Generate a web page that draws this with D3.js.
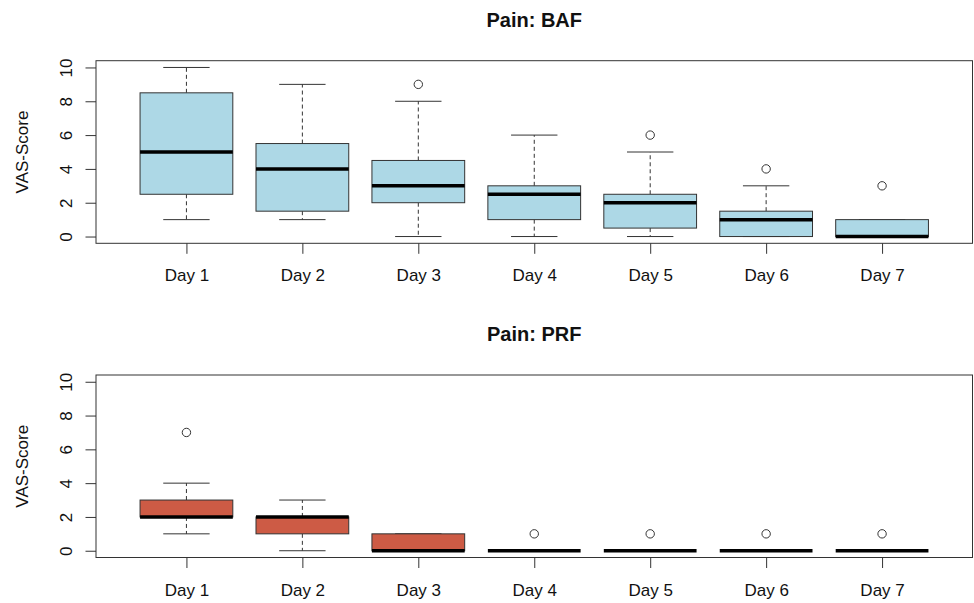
<!DOCTYPE html>
<html>
<head>
<meta charset="utf-8">
<script src="https://cdn.jsdelivr.net/npm/d3@7"></script>
<style>
  body { margin: 0; background: #fff; }
  text { font-family: "Liberation Sans", Arial, Helvetica, sans-serif; fill: #111; }
</style>
</head>
<body>
<div id="chart"></div>
<script>
var days = ["Day 1", "Day 2", "Day 3", "Day 4", "Day 5", "Day 6", "Day 7"];
var yTicks = [0, 2, 4, 6, 8, 10];

// Pain: BAF
var bafLow = [1, 1, 0, 0, 0, 0, 0];
var bafQ1 = [2.5, 1.5, 2, 1, 0.5, 0, 0];
var bafMed = [5, 4, 3, 2.5, 2, 1, 0];
var bafQ3 = [8.5, 5.5, 4.5, 3, 2.5, 1.5, 1];
var bafHigh = [10, 9, 8, 6, 5, 3, 1];
var bafOut = [[], [], [9], [], [6], [4], [3]];

// Pain: PRF
var prfLow = [1, 0, 0, 0, 0, 0, 0];
var prfQ1 = [2, 1, 0, 0, 0, 0, 0];
var prfMed = [2, 2, 0, 0, 0, 0, 0];
var prfQ3 = [3, 2, 1, 0, 0, 0, 0];
var prfHigh = [4, 3, 1, 0, 0, 0, 0];
var prfOut = [[7], [], [], [1], [1], [1], [1]];

var width = 974, height = 603;
var left = 96, right = 972.5;

var svg = d3.select("#chart").append("svg")
  .attr("width", width)
  .attr("height", height);

function makeStats(low, q1, med, q3, high, out) {
  return days.map(function (d, i) {
    return { i: i + 1, low: low[i], q1: q1[i], med: med[i], q3: q3[i], high: high[i], out: out[i] };
  });
}

function panel(opts) {
  var top = opts.top, bottom = opts.bottom;
  var x = d3.scaleLinear().domain([0.22, 7.78]).range([left, right]);
  var y = d3.scaleLinear().domain([-0.4, 10.4]).range([bottom, top]);
  var bw = (x(1.4) - x(0.6));
  var g = svg.append("g");

  g.append("text")
    .attr("x", (left + right) / 2)
    .attr("y", top - 34)
    .attr("text-anchor", "middle")
    .style("font-size", "20px")
    .style("font-weight", "bold")
    .text(opts.title);

  var boxes = g.selectAll(".bx").data(opts.stats).enter().append("g").attr("class", "bx");

  // whiskers
  boxes.append("line")
    .attr("x1", function (d) { return x(d.i); })
    .attr("x2", function (d) { return x(d.i); })
    .attr("y1", function (d) { return y(d.q3); })
    .attr("y2", function (d) { return y(d.high); })
    .attr("stroke", "#333").attr("stroke-dasharray", "4,3");
  boxes.append("line")
    .attr("x1", function (d) { return x(d.i); })
    .attr("x2", function (d) { return x(d.i); })
    .attr("y1", function (d) { return y(d.q1); })
    .attr("y2", function (d) { return y(d.low); })
    .attr("stroke", "#333").attr("stroke-dasharray", "4,3");
  // staples
  boxes.append("line")
    .attr("x1", function (d) { return x(d.i) - bw / 4; })
    .attr("x2", function (d) { return x(d.i) + bw / 4; })
    .attr("y1", function (d) { return y(d.high); })
    .attr("y2", function (d) { return y(d.high); })
    .attr("stroke", "#333");
  boxes.append("line")
    .attr("x1", function (d) { return x(d.i) - bw / 4; })
    .attr("x2", function (d) { return x(d.i) + bw / 4; })
    .attr("y1", function (d) { return y(d.low); })
    .attr("y2", function (d) { return y(d.low); })
    .attr("stroke", "#333");
  // box
  boxes.append("rect")
    .attr("x", function (d) { return x(d.i) - bw / 2; })
    .attr("width", bw)
    .attr("y", function (d) { return y(d.q3); })
    .attr("height", function (d) { return y(d.q1) - y(d.q3); })
    .attr("fill", opts.fill)
    .attr("stroke", "#333");
  // median
  boxes.append("line")
    .attr("x1", function (d) { return x(d.i) - bw / 2; })
    .attr("x2", function (d) { return x(d.i) + bw / 2; })
    .attr("y1", function (d) { return y(d.med); })
    .attr("y2", function (d) { return y(d.med); })
    .attr("stroke", "#000").attr("stroke-width", 3.5);
  // outliers
  boxes.selectAll("circle").data(function (d) {
    return d.out.map(function (v) { return { i: d.i, v: v }; });
  }).enter().append("circle")
    .attr("cx", function (d) { return x(d.i); })
    .attr("cy", function (d) { return y(d.v); })
    .attr("r", 4.2)
    .attr("fill", "none")
    .attr("stroke", "#333");

  // frame
  g.append("rect")
    .attr("x", left).attr("y", top)
    .attr("width", right - left).attr("height", bottom - top)
    .attr("fill", "none").attr("stroke", "#333");

  var xAxis = g.append("g")
    .attr("transform", "translate(0," + bottom + ")")
    .call(d3.axisBottom(x).tickValues(d3.range(1, 8))
      .tickFormat(function (d) { return days[d - 1]; })
      .tickSize(10.5).tickPadding(15.5));
  xAxis.select(".domain").remove();
  xAxis.selectAll("line").attr("stroke", "#333");
  xAxis.selectAll("text").style("font-size", "17px").attr("fill", "#111");

  var yAxis = g.append("g")
    .attr("transform", "translate(" + left + ",0)")
    .call(d3.axisLeft(y).tickValues(yTicks).tickSize(10.5));
  yAxis.select(".domain").remove();
  yAxis.selectAll("line").attr("stroke", "#333");
  yAxis.selectAll("text")
    .attr("transform", "rotate(-90)")
    .attr("x", 0).attr("y", -24).attr("dy", null)
    .attr("text-anchor", "middle")
    .style("font-size", "17px").attr("fill", "#111");

  g.append("text")
    .attr("transform", "translate(28," + (top + bottom) / 2 + ") rotate(-90)")
    .attr("text-anchor", "middle")
    .style("font-size", "17px")
    .text("VAS-Score");
}

panel({
  title: "Pain: BAF", top: 60.7, bottom: 243.3, fill: "#ADD8E6",
  stats: makeStats(bafLow, bafQ1, bafMed, bafQ3, bafHigh, bafOut)
});
panel({
  title: "Pain: PRF", top: 375, bottom: 557.5, fill: "#CD5B45",
  stats: makeStats(prfLow, prfQ1, prfMed, prfQ3, prfHigh, prfOut)
});
</script>
</body>
</html>
